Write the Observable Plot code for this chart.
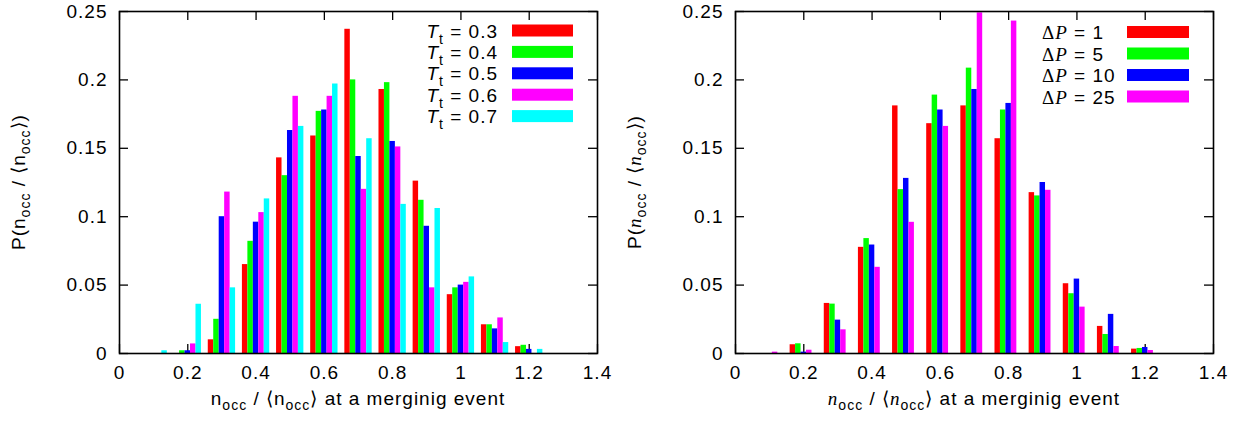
<!DOCTYPE html>
<html><head><meta charset="utf-8">
<script src="https://cdn.jsdelivr.net/npm/d3@7"></script>
<script src="https://cdn.jsdelivr.net/npm/@observablehq/plot@0.6"></script>
<style>
body{margin:0;background:#fff;}
#wrap{position:relative;width:1252px;height:425px;overflow:hidden;background:#fff;}
#wrap svg{position:absolute;top:0;}
</style></head><body><div id="wrap"></div>
<script>
// ---------- data ----------
const bins = [0.1, 0.2, 0.3, 0.4, 0.5, 0.6, 0.7, 0.8, 0.9, 1.0, 1.1, 1.2];

// left panel: T_t series
const leftNames = ["0.3", "0.4", "0.5", "0.6", "0.7"];
const leftT03 = [0, 0, 0.010, 0.065, 0.143, 0.159, 0.237, 0.193, 0.126, 0.043, 0.021, 0.005];
const leftT04 = [0, 0.002, 0.025, 0.082, 0.130, 0.177, 0.200, 0.198, 0.112, 0.048, 0.021, 0.006];
const leftT05 = [0, 0.002, 0.100, 0.096, 0.163, 0.178, 0.144, 0.155, 0.093, 0.050, 0.018, 0.003];
const leftT06 = [0, 0.007, 0.118, 0.103, 0.188, 0.188, 0.120, 0.151, 0.048, 0.052, 0.026, 0];
const leftT07 = [0.002, 0.036, 0.048, 0.113, 0.166, 0.197, 0.157, 0.109, 0.106, 0.056, 0.008, 0.003];

// right panel: ΔP series
const rightNames = ["1", "5", "10", "25"];
const rightP1  = [0, 0.0064, 0.0366, 0.0776, 0.181, 0.168, 0.181, 0.157, 0.1176, 0.051, 0.0198, 0.0032];
const rightP5  = [0, 0.0071, 0.0361, 0.084, 0.1198, 0.1889, 0.2086, 0.178, 0.1152, 0.0437, 0.0139, 0.0037];
const rightP10 = [0, 0.001, 0.0244, 0.0793, 0.128, 0.178, 0.193, 0.1828, 0.125, 0.0544, 0.0286, 0.0044];
const rightP25 = [0.001, 0.0024, 0.0173, 0.063, 0.0959, 0.166, 0.249, 0.243, 0.1193, 0.0339, 0.0051, 0.0022];

const xTicks = [0, 0.2, 0.4, 0.6, 0.8, 1, 1.2, 1.4];
const xTickLabels = ["0", "0.2", "0.4", "0.6", "0.8", "1", "1.2", "1.4"];
const yTicks = [0, 0.05, 0.1, 0.15, 0.2, 0.25];
const yTickLabels = ["0", "0.05", "0.1", "0.15", "0.2", "0.25"];

const colors = ["#ff0000", "#00ff00", "#0000ff", "#ff00ff", "#00ffff"];

// ---------- drawing ----------
const barStep = 0.016;
const W = 620, H = 425, mL = 119, mR = 23, mT = 11, mB = 72;
const fw = W - mL - mR, fh = H - mT - mB;
const FONT = "'Liberation Sans', Arial, Helvetica, sans-serif";

function makeChart(seriesVals, names) {
  const data = [];
  seriesVals.forEach((vals, i) => vals.forEach((v, j) => {
    if (v > 0) data.push({x: bins[j] + (i - 2) * barStep, y: v, s: names[i]});
  }));
  return Plot.plot({
    width: W, height: H,
    marginLeft: mL, marginRight: mR, marginTop: mT, marginBottom: mB,
    style: {fontFamily: FONT, fontSize: "19px", background: "#fff", color: "#000", overflow: "visible", letterSpacing: "1px"},
    x: {domain: [0, 1.4]},
    y: {domain: [0, 0.25]},
    color: {domain: names, range: colors.slice(0, names.length)},
    marks: [
      Plot.tickX(xTicks, {x: d => d, insetTop: fh - 9, stroke: "#000", strokeWidth: 1.3}),
      Plot.tickX(xTicks, {x: d => d, insetBottom: fh - 9, stroke: "#000", strokeWidth: 1.3}),
      Plot.tickY(yTicks, {y: d => d, insetRight: fw - 9, stroke: "#000", strokeWidth: 1.3}),
      Plot.tickY(yTicks, {y: d => d, insetLeft: fw - 9, stroke: "#000", strokeWidth: 1.3}),
      Plot.rectY(data, {x1: d => d.x - barStep / 2, x2: d => d.x + barStep / 2, y: "y", fill: "s"}),
      Plot.axisX(xTicks, {tickSize: 0, tickPadding: 12, label: null, tickFormat: d => xTickLabels[xTicks.indexOf(d)]}),
      Plot.axisY(yTicks, {tickSize: 0, tickPadding: 12, label: null, tickFormat: d => yTickLabels[yTicks.indexOf(d)]}),
      Plot.frame({stroke: "#000", strokeWidth: 1.6})
    ]
  });
}

function addNocc(t, italic) {
  const n = t.append("tspan").text("n");
  if (italic) n.attr("font-style", "italic").attr("font-family", "'Liberation Serif', serif");
  t.append("tspan").attr("font-size", "14px").attr("dy", "5").text("occ");
  t.append("tspan").attr("dy", "-5").text(" / \u27E8");
  const n2 = t.append("tspan").text("n");
  if (italic) n2.attr("font-style", "italic").attr("font-family", "'Liberation Serif', serif");
  t.append("tspan").attr("font-size", "14px").attr("dy", "5").text("occ");
  t.append("tspan").attr("dy", "-5").text("\u27E9");
}

function addTitles(svg, italic) {
  const s = d3.select(svg);
  const xt = s.append("text").attr("x", mL + fw / 2).attr("y", 405)
    .attr("text-anchor", "middle").attr("font-size", "19px").attr("fill", "#000");
  addNocc(xt, italic);
  xt.append("tspan").text(" at a merginig event");
  const yt = s.append("text").attr("transform", `translate(25,${mT + fh / 2}) rotate(-90)`)
    .attr("text-anchor", "middle").attr("font-size", "19px").attr("fill", "#000");
  yt.append("tspan").text("P(");
  addNocc(yt, italic);
  yt.append("tspan").text(")");
}

const wrap = document.getElementById("wrap");

// left chart
const left = makeChart([leftT03, leftT04, leftT05, leftT06, leftT07], leftNames);
left.style.left = "0px";
wrap.appendChild(left);
addTitles(left, false);
{
  const g = d3.select(left).append("g");
  leftNames.forEach((nm, i) => {
    const cy = 30.5 + i * 21.4;
    const t = g.append("text").attr("x", 498).attr("y", cy + 7).attr("text-anchor", "end")
      .attr("font-size", "19px").attr("fill", "#000");
    t.append("tspan").attr("font-style", "italic").text("T");
    t.append("tspan").attr("font-size", "14px").attr("dy", "6").text("t");
    t.append("tspan").attr("dy", "-6").text(" = " + nm);
    g.append("rect").attr("x", 512).attr("y", cy - 6).attr("width", 61).attr("height", 12).attr("fill", colors[i]);
  });
}

// right chart
const right = makeChart([rightP1, rightP5, rightP10, rightP25], rightNames);
right.style.left = "616px";
wrap.appendChild(right);
addTitles(right, true);
{
  const g = d3.select(right).append("g");
  rightNames.forEach((nm, i) => {
    const cy = 32 + i * 21.5;
    const t = g.append("text").attr("x", 426).attr("y", cy + 7).attr("text-anchor", "start")
      .attr("font-size", "19px").attr("fill", "#000");
    t.append("tspan").attr("font-family", "'Liberation Serif', serif").text("\u0394");
    t.append("tspan").attr("font-family", "'Liberation Serif', serif").attr("font-style", "italic").text("P");
    t.append("tspan").text(" = " + nm);
    g.append("rect").attr("x", 511).attr("y", cy - 6).attr("width", 62).attr("height", 12).attr("fill", colors[i]);
  });
}
</script></body></html>
